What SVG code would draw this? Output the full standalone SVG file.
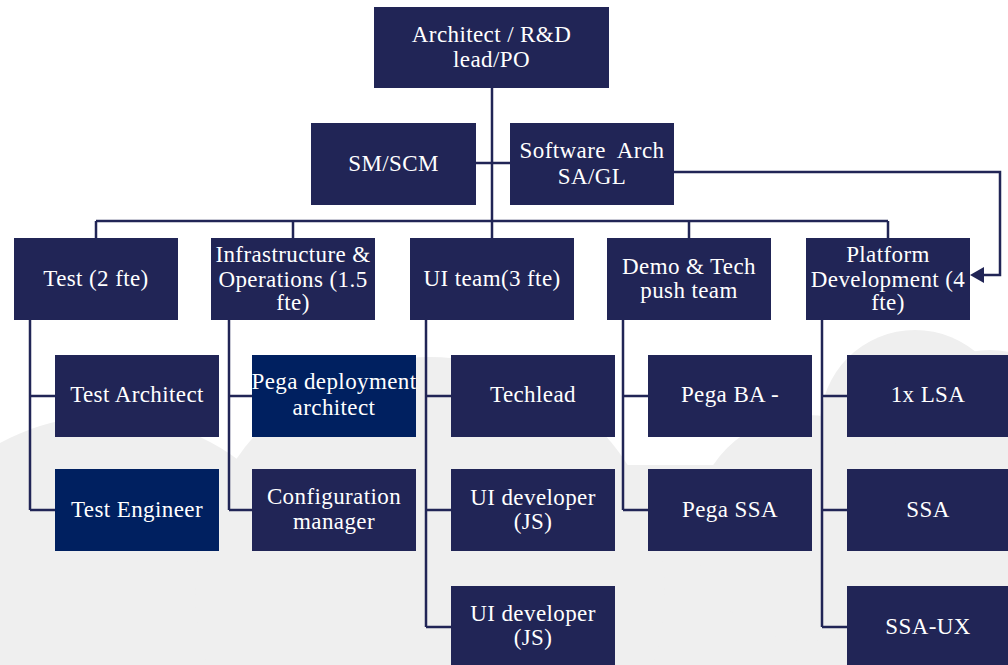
<svg xmlns="http://www.w3.org/2000/svg" width="1008" height="665" viewBox="0 0 1008 665">
<style>
.bx{fill:#212556}
.bd{fill:#002060}
.t{font-size:23px;fill:#ffffff;text-anchor:middle;letter-spacing:0.4px}
.ln{stroke:#212556;stroke-width:2.5;fill:none}
.ah{fill:#212556;stroke:none}
.bg{fill:#efefef}
</style>
<rect width="1008" height="665" fill="#ffffff"/>
<g id="background">
<rect class="bg" x="0" y="465" width="1008" height="200"/>
<circle class="bg" cx="106" cy="638" r="222"/>
<circle class="bg" cx="430" cy="592" r="235"/>
<circle class="bg" cx="807" cy="528" r="113"/>
<circle class="bg" cx="915" cy="425" r="95"/>
<circle class="bg" cx="990" cy="445" r="95"/>
</g>
<g id="connectors">
<path class="ln" d="M492,88 V221"/>
<path class="ln" d="M476,163 H510"/>
<path class="ln" d="M96,221 H888"/>
<path class="ln" d="M96,221 V238 M293,221 V238 M492,221 V238 M689,221 V238 M888,221 V238"/>
<path class="ln" d="M674,172 H1000 V275 H982"/>
<polygon class="ah" points="970,275 984,267 984,283"/>
<path class="ln" d="M30,320 V510 M30,396 H55 M30,510 H55"/>
<path class="ln" d="M229,320 V510 M229,396 H252 M229,510 H252"/>
<path class="ln" d="M426,320 V627 M426,396 H451 M426,510 H451 M426,627 H451"/>
<path class="ln" d="M623,320 V510 M623,396 H648 M623,510 H648"/>
<path class="ln" d="M822,320 V627 M822,396 H847 M822,510 H847 M822,627 H847"/>
</g>
<g id="nodes" font-family="Liberation Serif, Times New Roman, serif">
<g id="n-root"><rect class="bx" x="374" y="7" width="235" height="81"/><text class="t" x="491.5" y="42">Architect / R&amp;D</text><text class="t" x="491.5" y="67">lead/PO</text></g>
<g id="n-smscm"><rect class="bx" x="311" y="123" width="165" height="82"/><text class="t" x="393.5" y="171">SM/SCM</text></g>
<g id="n-swarch"><rect class="bx" x="510" y="123" width="164" height="82"/><text class="t" x="592" y="158" xml:space="preserve">Software  Arch</text><text class="t" x="592" y="184">SA/GL</text></g>
<g id="n-test"><rect class="bx" x="14" y="238" width="164" height="82"/><text class="t" x="96" y="286">Test (2 fte)</text></g>
<g id="n-infra"><rect class="bx" x="211" y="238" width="164" height="82"/><text class="t" x="293" y="262">Infrastructure &amp;</text><text class="t" x="293" y="287">Operations (1.5</text><text class="t" x="293" y="310">fte)</text></g>
<g id="n-ui"><rect class="bx" x="410" y="238" width="164" height="82"/><text class="t" x="492" y="286">UI team(3 fte)</text></g>
<g id="n-demo"><rect class="bx" x="607" y="238" width="164" height="82"/><text class="t" x="689" y="274">Demo &amp; Tech</text><text class="t" x="689" y="298">push team</text></g>
<g id="n-platform"><rect class="bx" x="806" y="238" width="164" height="82"/><text class="t" x="888" y="262">Platform</text><text class="t" x="888" y="287">Development (4</text><text class="t" x="888" y="310">fte)</text></g>
<g id="n-testarch"><rect class="bx" x="55" y="355" width="164" height="82"/><text class="t" x="137" y="402">Test Architect</text></g>
<g id="n-testeng"><rect class="bd" x="55" y="469" width="164" height="82"/><text class="t" x="137" y="517">Test Engineer</text></g>
<g id="n-pegadep"><rect class="bd" x="252" y="355" width="164" height="82"/><text class="t" x="334" y="389">Pega deployment</text><text class="t" x="334" y="415">architect</text></g>
<g id="n-config"><rect class="bx" x="252" y="469" width="164" height="82"/><text class="t" x="334" y="504">Configuration</text><text class="t" x="334" y="529">manager</text></g>
<g id="n-techlead"><rect class="bx" x="451" y="355" width="164" height="82"/><text class="t" x="533" y="402">Techlead</text></g>
<g id="n-uidev1"><rect class="bx" x="451" y="469" width="164" height="82"/><text class="t" x="533" y="505">UI developer</text><text class="t" x="533" y="529">(JS)</text></g>
<g id="n-uidev2"><rect class="bx" x="451" y="586" width="164" height="82"/><text class="t" x="533" y="621">UI developer</text><text class="t" x="533" y="645">(JS)</text></g>
<g id="n-pegaba"><rect class="bx" x="648" y="355" width="164" height="82"/><text class="t" x="730" y="402">Pega BA -</text></g>
<g id="n-pegassa"><rect class="bx" x="648" y="469" width="164" height="82"/><text class="t" x="730" y="517">Pega SSA</text></g>
<g id="n-lsa"><rect class="bx" x="847" y="355" width="164" height="82"/><text class="t" x="928" y="402">1x LSA</text></g>
<g id="n-ssa"><rect class="bx" x="847" y="469" width="164" height="82"/><text class="t" x="928" y="517">SSA</text></g>
<g id="n-ssaux"><rect class="bx" x="847" y="586" width="164" height="82"/><text class="t" x="928" y="634">SSA-UX</text></g>
</g>
</svg>
